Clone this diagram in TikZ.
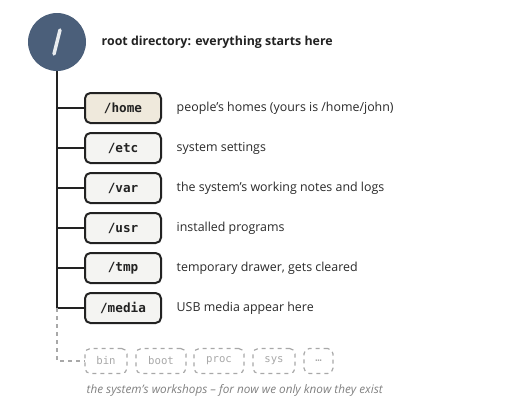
\documentclass[tikz,border=0pt]{standalone}
\usepackage{fontspec}
\setmainfont{Open Sans}
\setmonofont{DejaVu Sans Mono}
\usepackage{tikz}

\definecolor{rootblue}{HTML}{4B5F7A}
\definecolor{homefill}{HTML}{EFE9DC}
\definecolor{dirfill}{HTML}{F4F4F2}
\definecolor{inkdark}{HTML}{222222}
\definecolor{textgray}{HTML}{2A2A2A}
\definecolor{faintgray}{HTML}{A8A8A8}

\tikzset{
  dirbox/.style={draw=inkdark, line width=1.5pt, rounded corners=4pt, fill=dirfill,
    minimum width=57pt, minimum height=22.5pt, font=\ttfamily\bfseries\fontsize{9.5}{11}\selectfont, text=inkdark},
  ghostbox/.style={draw=faintgray, dashed, line width=0.9pt, rounded corners=4pt,
    minimum height=18.75pt, font=\ttfamily\fontsize{8}{10}\selectfont, text=faintgray},
  desc/.style={anchor=west, font=\fontsize{9.3}{11}\selectfont, text=textgray},
  branch/.style={draw=inkdark, line width=1.3pt}
}

\begin{document}
\begin{tikzpicture}[x=0.75pt, y=-0.75pt]
        \useasboundingbox (0,0) rectangle (520,411);

        %Root
        \node [circle, fill=rootblue, minimum size=43.5pt, inner sep=0pt] (root) at (57,42) {};
        \draw [white!88!rootblue, line width=2.6pt, line cap=round] (54,54) -- (60,30);
        \node [anchor=west, font=\bfseries\fontsize{9.3}{11}\selectfont, text=inkdark] (rootlabel) at (97,42) {root directory: everything starts here};

        %Directories
        \node [dirbox, fill=homefill] (home) at (123,108) {/home};
        \node [dirbox] (etc) at (123,148) {/etc};
        \node [dirbox] (var) at (123,188) {/var};
        \node [dirbox] (usr) at (123,228) {/usr};
        \node [dirbox] (tmp) at (123,268) {/tmp};
        \node [dirbox] (media) at (123,308) {/media};

        %Descriptions
        \node [desc] (homedesc) at (172,108) {people’s homes (yours is /home/john)};
        \node [desc] (etcdesc) at (172,148) {system settings};
        \node [desc] (vardesc) at (172,188) {the system’s working notes and logs};
        \node [desc] (usrdesc) at (172,228) {installed programs};
        \node [desc] (tmpdesc) at (172,268) {temporary drawer, gets cleared};
        \node [desc] (mediadesc) at (172,308) {USB media appear here};

        %Trunk and branches
        \coordinate (trunkend) at (root.south |- media.west);
        \draw [branch] (root.south) -- (trunkend);
        \draw [branch] (root.south |- home.west) -- (home.west);
        \draw [branch] (root.south |- etc.west) -- (etc.west);
        \draw [branch] (root.south |- var.west) -- (var.west);
        \draw [branch] (root.south |- usr.west) -- (usr.west);
        \draw [branch] (root.south |- tmp.west) -- (tmp.west);
        \draw [branch] (trunkend) -- (media.west);

        %Other directories
        \node [ghostbox, minimum width=31.5pt] (bin) at (106,361) {bin};
        \node [ghostbox, minimum width=37.5pt] (boot) at (161,361) {boot};
        \node [ghostbox, minimum width=37.5pt] (proc) at (219,361) {proc};
        \node [ghostbox, minimum width=31.5pt] (sys) at (274,361) {sys};
        \node [ghostbox, minimum width=21.75pt] (more) at (318.5,361) {…};
        \draw [faintgray, dashed, line width=0.9pt] (trunkend) |- (bin.west);

        \node [anchor=west, font=\itshape\fontsize{8.8}{11}\selectfont, text=gray] (note) at (82,390) {the system’s workshops – for now we only know they exist};

\end{tikzpicture}
\end{document}
